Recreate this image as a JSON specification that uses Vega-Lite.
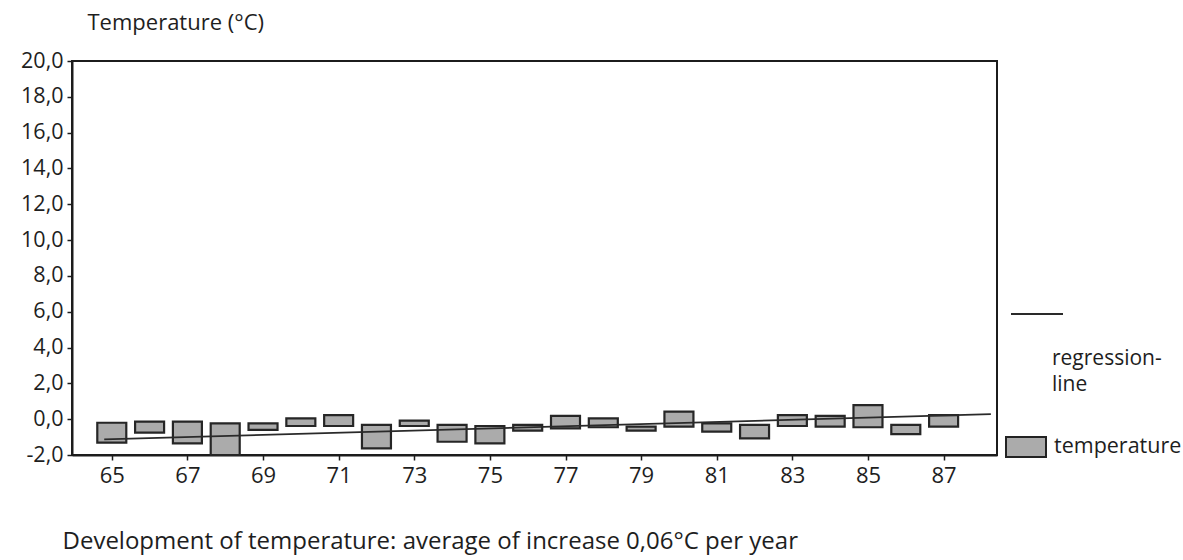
{
  "$schema": "https://vega.github.io/schema/vega-lite/v6.json",
  "width": 925,
  "height": 394,
  "autosize": "none",
  "padding": {"left": 72, "top": 61, "right": 186, "bottom": 105},
  "background": "white",
  "config": {
    "font": "Open Sans",
    "view": {"stroke": "#1c1c1c", "strokeWidth": 2},
    "axis": {
      "grid": false,
      "domainColor": "#1c1c1c",
      "domainWidth": 2,
      "tickColor": "#1c1c1c",
      "tickWidth": 1.5,
      "tickSize": 5,
      "labelColor": "#1e1e1e",
      "labelFont": "Open Sans",
      "titleFont": "Open Sans",
      "titleFontWeight": "normal",
      "titleColor": "#1e1e1e"
    },
    "legend": {"padding": 0, "labelFont": "Open Sans", "titleFont": "Open Sans", "labelColor": "#1e1e1e", "titleColor": "#1e1e1e"}
  },
  "datasets": {
    "yearly": [
      {"year": 65, "high": -0.2, "low": -1.31, "series": "temperature"},
      {"year": 66, "high": -0.14, "low": -0.75, "series": "temperature"},
      {"year": 67, "high": -0.14, "low": -1.35, "series": "temperature"},
      {"year": 68, "high": -0.23, "low": -2.0, "series": "temperature"},
      {"year": 69, "high": -0.23, "low": -0.6, "series": "temperature"},
      {"year": 70, "high": 0.05, "low": -0.38, "series": "temperature"},
      {"year": 71, "high": 0.23, "low": -0.38, "series": "temperature"},
      {"year": 72, "high": -0.32, "low": -1.63, "series": "temperature"},
      {"year": 73, "high": -0.08, "low": -0.38, "series": "temperature"},
      {"year": 74, "high": -0.32, "low": -1.26, "series": "temperature"},
      {"year": 75, "high": -0.38, "low": -1.35, "series": "temperature"},
      {"year": 76, "high": -0.32, "low": -0.64, "series": "temperature"},
      {"year": 77, "high": 0.18, "low": -0.51, "series": "temperature"},
      {"year": 78, "high": 0.05, "low": -0.45, "series": "temperature"},
      {"year": 79, "high": -0.42, "low": -0.64, "series": "temperature"},
      {"year": 80, "high": 0.42, "low": -0.42, "series": "temperature"},
      {"year": 81, "high": -0.23, "low": -0.7, "series": "temperature"},
      {"year": 82, "high": -0.32, "low": -1.07, "series": "temperature"},
      {"year": 83, "high": 0.23, "low": -0.38, "series": "temperature"},
      {"year": 84, "high": 0.18, "low": -0.42, "series": "temperature"},
      {"year": 85, "high": 0.79, "low": -0.45, "series": "temperature"},
      {"year": 86, "high": -0.32, "low": -0.83, "series": "temperature"},
      {"year": 87, "high": 0.23, "low": -0.42, "series": "temperature"}
    ],
    "trend": [
      {"year": 64.8, "temp": -1.13, "series": "regression-line"},
      {"year": 88.25, "temp": 0.28, "series": "regression-line"}
    ]
  },
  "layer": [
    {
      "data": {"name": "yearly"},
      "mark": {"type": "bar", "width": 29, "stroke": "#262626", "strokeWidth": 2.2},
      "encoding": {
        "x": {
          "field": "year",
          "type": "quantitative",
          "scale": {"domain": [64.08, 88.28], "nice": false, "zero": false},
          "axis": {
            "values": [65, 67, 69, 71, 73, 75, 77, 79, 81, 83, 85, 87],
            "tickCount": 30,
            "format": "d",
            "labelFontSize": 22,
            "labelPadding": 5,
            "labelOverlap": false,
            "title": "Development of temperature: average of increase 0,06°C per year",
            "titleFontSize": 24,
            "titleAlign": "left",
            "titleAnchor": "start",
            "titleBaseline": "alphabetic",
            "titleX": -10,
            "titleY": 93
          }
        },
        "y": {
          "field": "high",
          "type": "quantitative",
          "scale": {"domain": [-2, 20], "nice": false, "zero": false},
          "axis": {
            "values": [-2, 0, 2, 4, 6, 8, 10, 12, 14, 16, 18, 20],
            "tickCount": 30,
            "labelExpr": "replace(replace(format(datum.value, '.1f'), '.', ','), '\u2212', '-')",
            "labelFontSize": 21.5,
            "labelPadding": 4,
            "labelOverlap": false,
            "title": "Temperature (°C)",
            "titleFontSize": 22,
            "titleAngle": 0,
            "titleAlign": "left",
            "titleBaseline": "alphabetic",
            "titleX": 15,
            "titleY": -32
          }
        },
        "y2": {"field": "low"},
        "fill": {
          "field": "series",
          "type": "nominal",
          "scale": {"range": ["#ababab"]},
          "legend": {
            "orient": "none",
            "legendX": 933,
            "legendY": 365,
            "title": null,
            "symbolType": "M-1,-0.5H1V0.5H-1Z",
            "symbolSize": 1600,
            "symbolStrokeColor": "#222222",
            "symbolStrokeWidth": 2,
            "labelFontSize": 21.5,
            "labelOffset": 7
          }
        }
      }
    },
    {
      "data": {"name": "trend"},
      "mark": {"type": "line", "strokeWidth": 1.8},
      "encoding": {
        "x": {"field": "year", "type": "quantitative"},
        "y": {"field": "temp", "type": "quantitative"},
        "stroke": {
          "field": "series",
          "type": "nominal",
          "scale": {"range": ["#2a2a2a"]},
          "legend": {
            "orient": "none",
            "legendX": 980,
            "legendY": 226,
            "title": ["regression-", "line"],
            "titleOrient": "bottom",
            "titleFontSize": 21,
            "titleFontWeight": "normal",
            "titleLineHeight": 26,
            "titlePadding": 29,
            "symbolType": "stroke",
            "symbolSize": 2704,
            "symbolStrokeWidth": 2,
            "symbolOffset": -42,
            "labelExpr": "''"
          }
        }
      }
    }
  ]
}
